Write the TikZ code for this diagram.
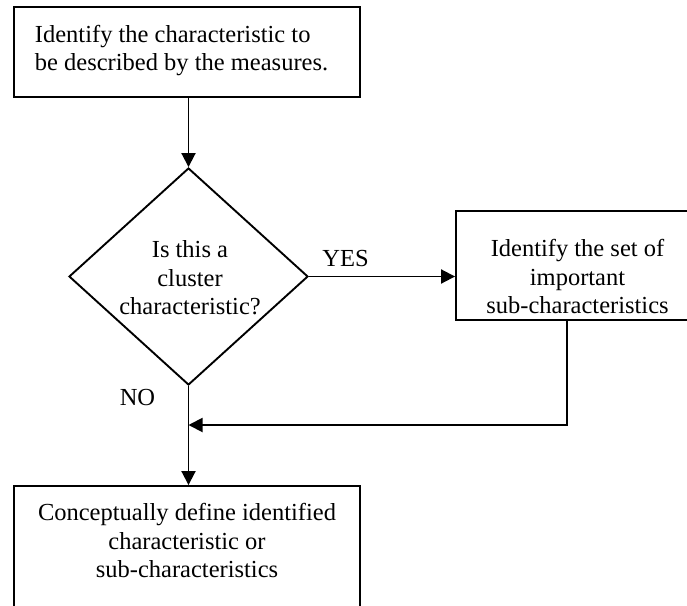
\documentclass[tikz,border=0pt]{standalone}
\usepackage{fontspec}
\setmainfont{Liberation Serif}
\usetikzlibrary{arrows.meta,shapes.geometric}
\begin{document}
\begin{tikzpicture}[x=1pt,y=-1pt,
  line width=1.9pt,
  box/.style={draw, rectangle, inner sep=0pt},
  decision/.style={draw, diamond, inner sep=0pt, minimum width=239pt, minimum height=217pt},
  txt/.style={inner sep=0pt, font=\fontsize{24.5}{28.5}\selectfont},
  flow/.style={-{Triangle[length=14pt,width=14pt]}}]
\useasboundingbox (0,0) rectangle (687,605);
\clip (0,0) rectangle (687,605);

% shapes
\node[box, minimum width=346pt, minimum height=90pt] (top) at (187,52) {};
\node[decision] (dia) at (188.5,276.5) {};
\node[box, minimum width=243pt, minimum height=109pt] (rbox) at (577.5,265.5) {};
\node[box, minimum width=346pt, minimum height=144pt] (bot) at (187,558) {};

% texts
\node[txt, anchor=north west, align=left] (ttext) at (34,24) {Identify the characteristic to\\be described by the measures.};
\node[txt, anchor=north, align=center] (dtext) at (190,240) {Is this a\\cluster\\characteristic?};
\node[txt, anchor=north, align=center] (rtext) at (577.5,238.5) {Identify the set of\\important\\sub-characteristics};
\node[txt, anchor=north, align=center] (btext) at (187,502.5) {Conceptually define identified\\characteristic or\\sub-characteristics};
\node[txt, anchor=base] (yes) at (345.5,266) {YES};
\node[txt, anchor=base] (no) at (137.5,405.7) {NO};

% connectors
\coordinate (merge) at (188.5,425);
\coordinate (turn) at (567,425);
\draw[flow] (dia.north |- top.south) -- (dia.north);
\draw[flow] (dia.east) -- (dia.east -| rbox.west);
\draw[flow] (turn |- rbox.south) -- (turn) -- (merge);
\draw[flow] (dia.south) -- (dia.south |- bot.north);
\end{tikzpicture}
\end{document}
